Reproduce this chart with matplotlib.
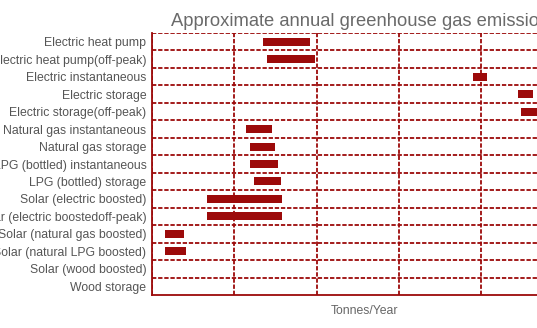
import matplotlib
matplotlib.use("Agg")
import matplotlib.pyplot as plt

# systems, top to bottom
systems = [
    "Electric heat pump",
    "Electric heat pump(off-peak)",
    "Electric instantaneous",
    "Electric storage",
    "Electric storage(off-peak)",
    "Natural gas instantaneous",
    "Natural gas storage",
    "LPG (bottled) instantaneous",
    "LPG (bottled) storage",
    "Solar (electric boosted)",
    "Solar (electric boostedoff-peak)",
    "Solar (natural gas boosted)",
    "Solar (natural LPG boosted)",
    "Solar (wood boosted)",
    "Wood storage",
]
# approximate tonnes/year range (None = no bar)
low = [2.70, 2.79, 7.80, 8.89, 8.97, 2.28, 2.38, 2.38, 2.48, 1.34, 1.34, 0.32, 0.32, None, None]
high = [3.84, 3.96, 8.14, 9.26, 9.40, 2.92, 3.00, 3.06, 3.13, 3.16, 3.16, 0.78, 0.83, None, None]

RED = "#9c0a0a"
plt.rcParams["font.family"] = ["Liberation Sans", "DejaVu Sans"]

fig = plt.figure(figsize=(5.37, 3.28), dpi=100)
# the chart runs past the right edge of the picture
ax = fig.add_axes([152 / 537, 1 - 295 / 328, 426 / 537, 262 / 328])

ys = list(range(len(systems)))
for y, a, b in zip(ys, low, high):
    if a is None:
        continue
    ax.barh(y, b - a, left=a, height=0.46, color=RED, zorder=3)

ax.set_ylim(len(systems) - 0.5, -0.5)
ax.set_xlim(0, 10.35)
ax.set_yticks(ys)
ax.set_yticklabels(systems, fontsize=8.8, color="#555555")
ax.set_yticks([y - 0.5 for y in range(len(systems))], minor=True)
ax.set_xticks([0, 2, 4, 6, 8, 10])
ax.set_xticklabels([])
ax.tick_params(axis="both", which="both", length=0, pad=4)

ax.grid(True, axis="y", which="minor", color=RED, ls=(0, (2.4, 1.0)), lw=1.3, zorder=1)
ax.grid(True, axis="x", which="major", color=RED, ls=(0, (2.4, 1.0)), lw=1.3, zorder=1)

for s in ("top", "right"):
    ax.spines[s].set_visible(False)
for s in ("left", "bottom"):
    ax.spines[s].set_color(RED)
    ax.spines[s].set_linewidth(1.3)

ax.set_title("Approximate annual greenhouse gas emissions", fontsize=13.2,
             color="#6a6a6a", pad=5)
ax.set_xlabel("Tonnes/Year", fontsize=8.8, color="#666666", labelpad=3)

fig.savefig("out.png", dpi=100)
